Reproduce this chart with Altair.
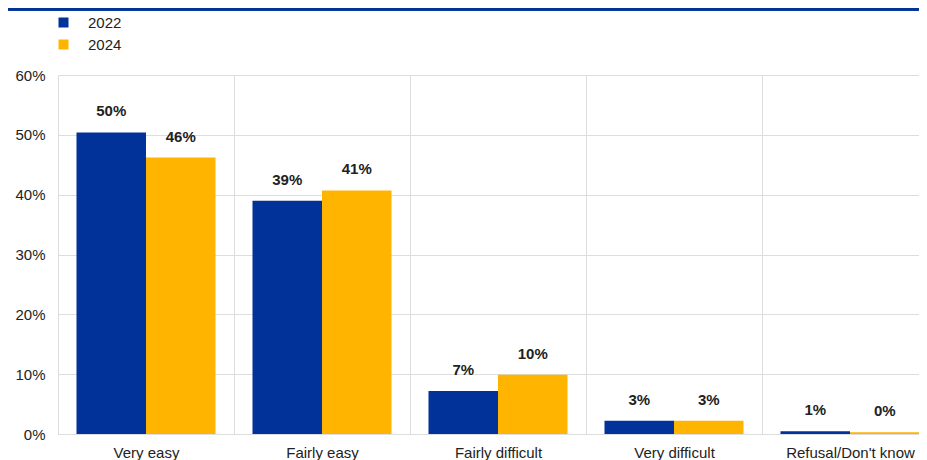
import altair as alt
import pandas as pd

categories = ["Very easy", "Fairly easy", "Fairly difficult", "Very difficult", "Refusal/Don't know"]
years = ["2022", "2024"]
values_2022 = [50.4, 39.0, 7.2, 2.2, 0.45]
values_2024 = [46.2, 40.7, 9.9, 2.2, 0.3]
labels_2022 = ["50%", "39%", "7%", "3%", "1%"]
labels_2024 = ["46%", "41%", "10%", "3%", "0%"]
colors = ["#003299", "#FFB400"]
y_ticks = [0, 10, 20, 30, 40, 50, 60]

rows = []
for c, v, l in zip(categories, values_2022, labels_2022):
    rows.append({"category": c, "year": "2022", "value": v, "label": l})
for c, v, l in zip(categories, values_2024, labels_2024):
    rows.append({"category": c, "year": "2024", "value": v, "label": l})
df = pd.DataFrame(rows)

FONT = "Arial, Liberation Sans, sans-serif"

x = alt.X(
    "category:N",
    sort=categories,
    title=None,
    scale=alt.Scale(range=[0, 880], paddingInner=0, paddingOuter=0),
    axis=alt.Axis(
        labelAngle=0,
        tickBand="extent",
        grid=True,
        gridColor="#dddddd",
        domainColor="#dddddd",
        ticks=False,
        labelPadding=11,
        labelFontSize=15,
        labelColor="#222222",
        labelFont=FONT,
    ),
)
xoff = alt.XOffset("year:N", sort=years, scale=alt.Scale(paddingInner=0, paddingOuter=0.266))
y = alt.Y(
    "value:Q",
    title=None,
    scale=alt.Scale(domain=[0, 60], nice=False),
    axis=alt.Axis(
        values=y_ticks,
        labelExpr="datum.value + '%'",
        domain=False,
        ticks=False,
        gridColor="#dddddd",
        labelPadding=13,
        labelFontSize=15,
        labelColor="#222222",
        labelFont=FONT,
    ),
)
color = alt.Color(
    "year:N",
    sort=years,
    scale=alt.Scale(domain=years, range=colors),
    legend=alt.Legend(
        title=None,
        orient="none",
        legendX=-2,
        legendY=-60,
        symbolType="square",
        symbolSize=100,
        symbolStrokeWidth=0,
        labelFontSize=15,
        labelColor="#222222",
        labelFont=FONT,
        labelOffset=17,
        rowPadding=6,
        padding=0,
    ),
)

bars = alt.Chart(df).mark_bar().encode(x=x, xOffset=xoff, y=y, color=color)
texts = alt.Chart(df).mark_text(
    fontWeight="bold", fontSize=15, font=FONT, color="#222222", baseline="middle", dy=-21
).encode(x=x, xOffset=xoff, y=y, text="label:N")

topline = alt.Chart(df).mark_rule(color="#003299", strokeWidth=2.5).encode(
    x=alt.value(-50), x2=alt.value(880), y=alt.value(-66)
)

chart = (
    alt.layer(topline, bars, texts)
    .properties(
        width=861,
        height=359,
        padding={"left": 50, "top": 67, "right": 0, "bottom": 30},
        autosize=alt.AutoSizeParams(type="none"),
    )
    .configure_view(stroke=None)
)

chart.save("out.html", embed_options={"renderer": "svg", "actions": False})
